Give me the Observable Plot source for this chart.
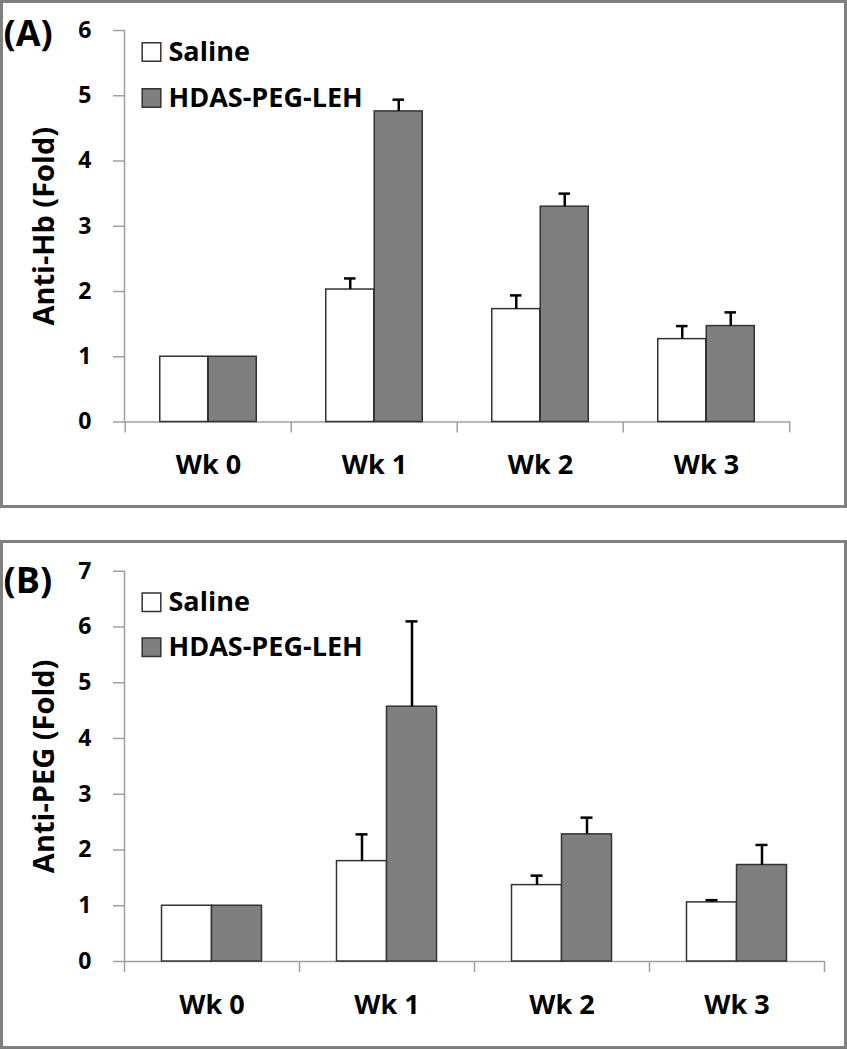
<!DOCTYPE html>
<html>
<head>
<meta charset="utf-8">
<script src="https://cdn.jsdelivr.net/npm/d3@7"></script>
<script src="https://cdn.jsdelivr.net/npm/@observablehq/plot@0.6"></script>
<style>
  html, body { margin: 0; padding: 0; background: #fff; }
  body { width: 847px; height: 1050px; position: relative; font-family: "Open Sans", sans-serif; }
  .panel { position: absolute; left: 0; width: 847px; box-sizing: border-box; border: 3px solid #808080; }
  .chart { position: absolute; left: 0; }
</style>
</head>
<body>
<div class="panel" style="top:0;height:508px;"></div>
<div class="panel" style="top:540px;height:509px;"></div>
<div id="a" class="chart" style="top:0;"></div>
<div id="b" class="chart" style="top:541px;"></div>
<script>
// ---- data ----
const weeks = ["Wk 0", "Wk 1", "Wk 2", "Wk 3"];
const groups = ["Saline", "HDAS-PEG-LEH"];

const hbSaline = [1.00, 2.03, 1.73, 1.27];
const hbSalineErr = [0, 0.17, 0.21, 0.20];
const hbHdas = [1.00, 4.76, 3.30, 1.47];
const hbHdasErr = [0, 0.18, 0.20, 0.21];

const pegSaline = [1.00, 1.80, 1.37, 1.06];
const pegSalineErr = [0, 0.48, 0.17, 0.04];
const pegHdas = [1.00, 4.57, 2.28, 1.73];
const pegHdasErr = [0, 1.53, 0.30, 0.36];

const yTicksA = [0, 1, 2, 3, 4, 5, 6];
const yTicksB = [0, 1, 2, 3, 4, 5, 6, 7];

function rows(vals, errs) {
  return weeks.map((w, i) => ({week: w, value: vals[i], err: errs[i]}));
}

function panel({el, label, labelDy, ytitle, saline, salineErr, hdas, hdasErr, yMax, yTicks, height, mt, mb, mr, barW, legendTop, legendGap}) {
  const width = 847, ml = 124;
  const band = (width - ml - mr) / weeks.length;
  const S = rows(saline, salineErr), H = rows(hdas, hdasErr);
  const outer = (band - 2 * barW) / 2, half = band / 2;
  const capHalf = 6;
  const font = {fontFamily: "Open Sans", fontWeight: "bold"};
  const errMarks = (data, dx) => [
    Plot.ruleX(data.filter(d => d.err > 0), {x: "week", y1: "value", y2: d => d.value + d.err, dx, stroke: "#000", strokeWidth: 2.5}),
    Plot.tickY(data.filter(d => d.err > 0), {x: "week", y: d => d.value + d.err, dx, insetLeft: half - capHalf, insetRight: half - capHalf, stroke: "#000", strokeWidth: 2.5})
  ];
  const chart = Plot.plot({
    width, height,
    marginLeft: ml, marginRight: mr, marginTop: mt, marginBottom: mb,
    style: {fontFamily: "Open Sans", fontWeight: "bold", color: "#000", background: "transparent"},
    x: {type: "band", domain: weeks, padding: 0, axis: null},
    y: {domain: [0, yMax], axis: null},
    marks: [
      // axes lines
      Plot.frame({anchor: "left", stroke: "#a0a0a0", strokeWidth: 1.5}),
      Plot.ruleY([0], {stroke: "#a0a0a0", strokeWidth: 1.5}),
      Plot.axisY(yTicks, {anchor: "left", tickSize: 11, tickPadding: 22, tickFormat: "d", stroke: "#a0a0a0", strokeWidth: 1.5, fontSize: 23, fill: "#000", label: null}),
      // category boundary ticks
      Plot.axisX(weeks, {anchor: "bottom", tickSize: 11, dx: -band / 2, text: null, stroke: "#a0a0a0", strokeWidth: 1.5, label: null}),
      Plot.axisX([weeks[weeks.length - 1]], {anchor: "bottom", tickSize: 11, dx: band / 2, text: null, stroke: "#a0a0a0", strokeWidth: 1.5, label: null}),
      // category labels
      Plot.axisX(weeks, {anchor: "bottom", tickSize: 0, tickPadding: 33, fontSize: 27, fill: "#000", label: null}),
      // bars
      Plot.barY(S, {x: "week", y: "value", fill: "#fff", stroke: "#333", strokeWidth: 1.5, insetLeft: outer, insetRight: half}),
      Plot.barY(H, {x: "week", y: "value", fill: "#7f7f7f", stroke: "#333", strokeWidth: 1.5, insetLeft: half, insetRight: outer}),
      ...errMarks(S, -barW / 2),
      ...errMarks(H, barW / 2),
      // y title
      Plot.text([ytitle], {frameAnchor: "left", textAnchor: "middle", dx: -80, rotate: -90, fontSize: 29, ...font, fill: "#000"}),
      // panel label
      Plot.text([label], {frameAnchor: "top-left", textAnchor: "start", lineAnchor: "middle", dx: -121, dy: labelDy, fontSize: 36, ...font, fill: "#000"}),
      // legend
      Plot.dot([groups[0]], {frameAnchor: "top-left", dx: 27, dy: legendTop, symbol: "square", r: 10.5, fill: "#fff", stroke: "#333", strokeWidth: 1.5}),
      Plot.dot([groups[1]], {frameAnchor: "top-left", dx: 27, dy: legendTop + legendGap, symbol: "square", r: 10.5, fill: "#7f7f7f", stroke: "#333", strokeWidth: 1.5}),
      Plot.text([groups[0]], {frameAnchor: "top-left", textAnchor: "start", lineAnchor: "middle", dx: 44, dy: legendTop, fontSize: 27, ...font, fill: "#000"}),
      Plot.text([groups[1]], {frameAnchor: "top-left", textAnchor: "start", lineAnchor: "middle", dx: 44, dy: legendTop + legendGap, fontSize: 27, ...font, fill: "#000"})
    ]
  });
  document.getElementById(el).appendChild(chart);
}

panel({el: "a", label: "(A)", labelDy: 4, ytitle: "Anti-Hb (Fold)", saline: hbSaline, salineErr: hbSalineErr, hdas: hbHdas, hdasErr: hbHdasErr,
  yMax: 6, yTicks: yTicksA, height: 508, mt: 30, mb: 86.5, mr: 57, barW: 48.5, legendTop: 21.5, legendGap: 46});
panel({el: "b", label: "(B)", labelDy: 10, ytitle: "Anti-PEG (Fold)", saline: pegSaline, salineErr: pegSalineErr, hdas: pegHdas, hdasErr: pegHdasErr,
  yMax: 7, yTicks: yTicksB, height: 508, mt: 29.7, mb: 88, mr: 23, barW: 50, legendTop: 31, legendGap: 45});
</script>
</body>
</html>
